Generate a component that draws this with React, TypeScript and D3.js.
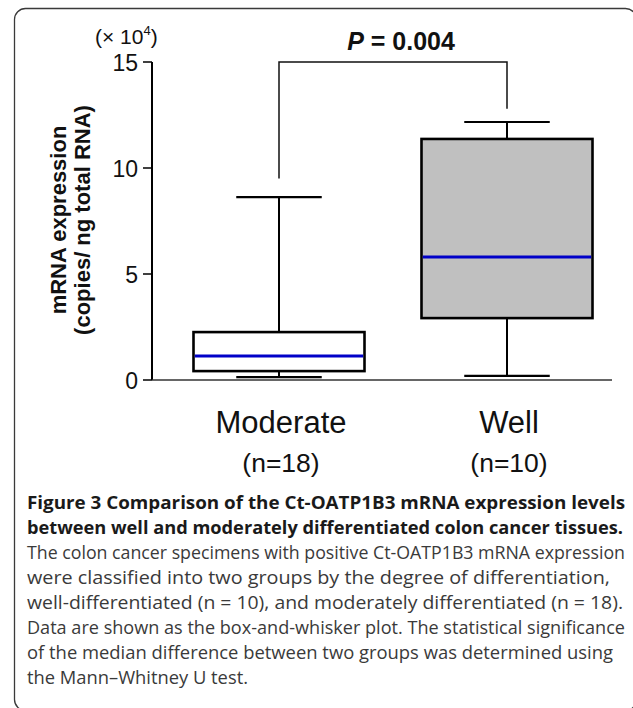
import * as d3 from "d3";
import { useEffect, useRef } from "react";

const CATEGORIES = ["Moderate", "Well"];
const COUNTS = ["(n=18)", "(n=10)"];
const MIN = [0.14, 0.19];
const Q1 = [0.42, 2.92];
const MEDIAN = [1.13, 5.8];
const Q3 = [2.26, 11.37];
const MAX = [8.63, 12.17];
const BOX_FILLS = ["#ffffff", "#c0c0c0"];
const Y_TICKS = [0, 5, 10, 15];
const BRACKET_TOP = 15;
const BRACKET_ENDS = [9.5, 12.8];

const CAPTION_BOLD = [
  "Figure 3 Comparison of the Ct-OATP1B3 mRNA expression levels",
  "between well and moderately differentiated colon cancer tissues.",
];
const CAPTION_TEXT = [
  "The colon cancer specimens with positive Ct-OATP1B3 mRNA expression",
  "were classified into two groups by the degree of differentiation,",
  "well-differentiated (n = 10), and moderately differentiated (n = 18).",
  "Data are shown as the box-and-whisker plot. The statistical significance",
  "of the median difference between two groups was determined using",
  "the Mann\u2013Whitney U test.",
];
// right end of each caption line (layout)
const CAPTION_ENDS = [625, 623, 625, 610, 623, 625, 613, 248];

export default function App() {
  const ref = useRef<SVGSVGElement | null>(null);

  useEffect(() => {
    const svg = d3.select(ref.current);
    svg.selectAll("*").remove();

    const width = 633;
    const height = 708;
    svg.attr("viewBox", `0 0 ${width} ${height}`).attr("width", width).attr("height", height);

    const sans = "'Liberation Sans', Arial, Helvetica, sans-serif";
    const capFont = "'Open Sans', 'Noto Sans', sans-serif";

    // frame, partly cut by the page edge on the right and bottom
    svg
      .append("rect")
      .attr("x", 14.5)
      .attr("y", 8.5)
      .attr("width", 622)
      .attr("height", 702)
      .attr("rx", 11)
      .attr("fill", "none")
      .attr("stroke", "#3a3a3a")
      .attr("stroke-width", 1.3);

    const y = d3.scaleLinear().domain([0, 15]).range([380, 62]);
    const x = d3
      .scaleBand<string>()
      .domain(CATEGORIES)
      .range([165, 621])
      .paddingInner(0.25)
      .paddingOuter(0.125);
    const axisX = 152;

    // y axis
    svg
      .append("line")
      .attr("x1", axisX)
      .attr("x2", axisX)
      .attr("y1", y(15))
      .attr("y2", y(0))
      .attr("stroke", "#000")
      .attr("stroke-width", 2);
    Y_TICKS.forEach((t) => {
      svg
        .append("line")
        .attr("x1", axisX - 9)
        .attr("x2", axisX)
        .attr("y1", y(t))
        .attr("y2", y(t))
        .attr("stroke", "#000")
        .attr("stroke-width", 1.5);
      svg
        .append("text")
        .attr("x", axisX - 14)
        .attr("y", y(t) + 8.5)
        .attr("text-anchor", "end")
        .attr("font-family", sans)
        .attr("font-size", 23)
        .attr("fill", "#111")
        .text(String(t));
    });

    // x axis
    svg
      .append("line")
      .attr("x1", axisX)
      .attr("x2", 612)
      .attr("y1", y(0))
      .attr("y2", y(0))
      .attr("stroke", "#333")
      .attr("stroke-width", 1.5);

    // multiplier label
    const mult = svg
      .append("text")
      .attr("x", 95)
      .attr("y", 44)
      .attr("font-family", sans)
      .attr("font-size", 21)
      .attr("fill", "#111");
    mult.append("tspan").text("(\u00d7 10");
    mult.append("tspan").attr("font-size", 13).attr("dy", -9).text("4");
    mult.append("tspan").attr("dy", 9).text(")");

    // y title
    const yt = svg
      .append("g")
      .attr("transform", "translate(0,220) rotate(-90)")
      .attr("font-family", sans)
      .attr("font-weight", "bold")
      .attr("font-size", 22)
      .attr("fill", "#111")
      .attr("text-anchor", "middle");
    yt.append("text").attr("x", 0).attr("y", 66).text("mRNA expression");
    yt.append("text").attr("x", 0).attr("y", 90).text("(copies/ ng total RNA)");

    // boxes
    CATEGORIES.forEach((c, i) => {
      const x0 = x(c) ?? 0;
      const bw = x.bandwidth();
      const cx = x0 + bw / 2;
      const cap = bw / 2;
      const g = svg.append("g").attr("stroke", "#000");

      // whiskers
      g.append("line")
        .attr("x1", cx).attr("x2", cx)
        .attr("y1", y(MAX[i])).attr("y2", y(Q3[i]))
        .attr("stroke-width", 2);
      g.append("line")
        .attr("x1", cx).attr("x2", cx)
        .attr("y1", y(Q1[i])).attr("y2", y(MIN[i]))
        .attr("stroke-width", 2);
      [MAX[i], MIN[i]].forEach((v) => {
        g.append("line")
          .attr("x1", cx - cap / 2).attr("x2", cx + cap / 2)
          .attr("y1", y(v)).attr("y2", y(v))
          .attr("stroke-width", 2.2);
      });

      g.append("rect")
        .attr("x", x0)
        .attr("y", y(Q3[i]))
        .attr("width", bw)
        .attr("height", y(Q1[i]) - y(Q3[i]))
        .attr("fill", BOX_FILLS[i])
        .attr("stroke-width", 2.6);

      svg.append("line")
        .attr("x1", x0 + 1.3).attr("x2", x0 + bw - 1.3)
        .attr("y1", y(MEDIAN[i])).attr("y2", y(MEDIAN[i]))
        .attr("stroke", "#0000c8")
        .attr("stroke-width", 3);

      svg.append("text")
        .attr("x", cx + 2)
        .attr("y", 433)
        .attr("text-anchor", "middle")
        .attr("font-family", sans)
        .attr("font-size", 31)
        .attr("fill", "#111")
        .text(c);
      svg.append("text")
        .attr("x", cx + 2)
        .attr("y", 472)
        .attr("text-anchor", "middle")
        .attr("font-family", sans)
        .attr("font-size", 26.5)
        .attr("fill", "#111")
        .text(COUNTS[i]);
    });

    // significance bracket
    const bx = CATEGORIES.map((c) => (x(c) ?? 0) + x.bandwidth() / 2);
    svg
      .append("path")
      .attr(
        "d",
        d3.line()([
          [bx[0], y(BRACKET_ENDS[0])],
          [bx[0], y(BRACKET_TOP)],
          [bx[1], y(BRACKET_TOP)],
          [bx[1], y(BRACKET_ENDS[1])],
        ]) ?? ""
      )
      .attr("fill", "none")
      .attr("stroke", "#111")
      .attr("stroke-width", 1.5);

    const pt = svg
      .append("text")
      .attr("x", (bx[0] + bx[1]) / 2 + 8)
      .attr("y", 50)
      .attr("text-anchor", "middle")
      .attr("font-family", sans)
      .attr("font-weight", "bold")
      .attr("font-size", 25)
      .attr("fill", "#111");
    pt.append("tspan").attr("font-style", "italic").text("P");
    pt.append("tspan").text(" = 0.004");

    // caption
    const lines = [
      ...CAPTION_BOLD.map((t) => ({ t, bold: true })),
      ...CAPTION_TEXT.map((t) => ({ t, bold: false })),
    ];
    const capX = 27;
    lines.forEach((l, i) => {
      svg
        .append("text")
        .attr("x", capX)
        .attr("y", 509 + i * 25)
        .attr("font-family", capFont)
        .attr("font-size", 17.5)
        .attr("font-weight", l.bold ? 700 : 400)
        .attr("fill", l.bold ? "#1a1a1a" : "#3a3a3a")
        .attr("textLength", CAPTION_ENDS[i] - capX)
        .attr("lengthAdjust", "spacingAndGlyphs")
        .text(l.t);
    });
  }, []);

  return (
    <svg
      ref={ref}
      style={{ position: "absolute", left: 0, top: 0, background: "#fff" }}
    />
  );
}
